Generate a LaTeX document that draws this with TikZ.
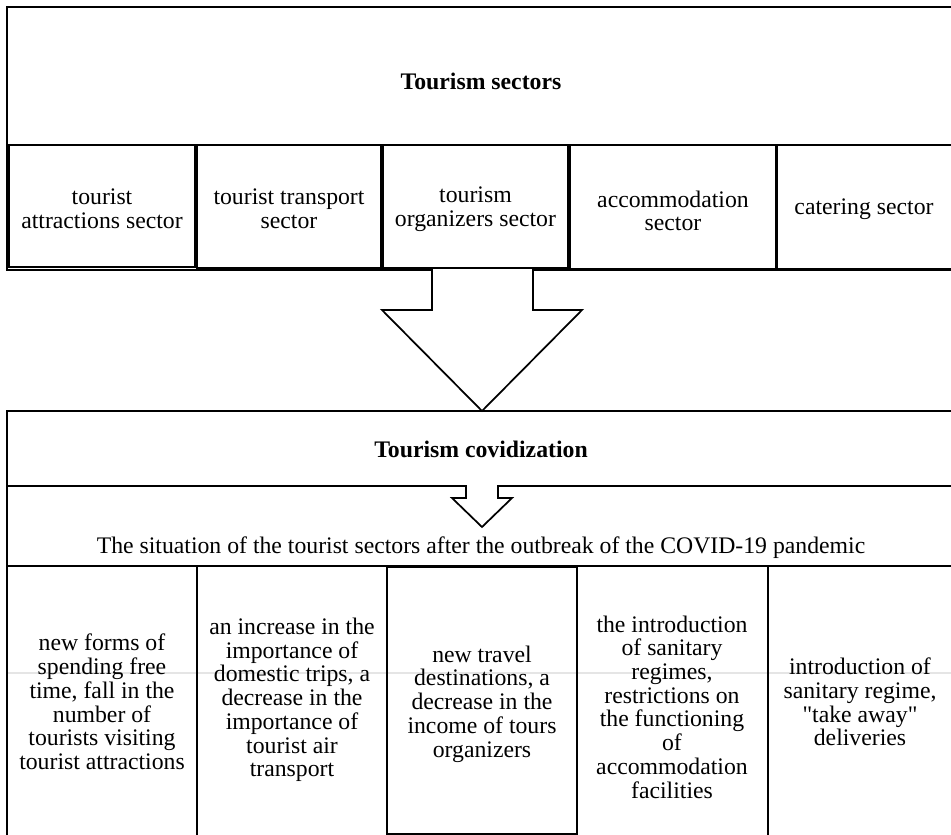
\documentclass[tikz,border=0pt]{standalone}
\usepackage{fontspec}
\setmainfont{Liberation Serif}[Ligatures=TeXOff]
\tikzset{
  frame/.style={line width=1.3pt, line join=miter},
  cell/.style={line width=1.1pt},
  txt/.style={align=center, inner sep=0pt, font=\fontsize{17.8}{17.8}\selectfont},
  headtxt/.style={txt, font=\fontsize{17.8}{17.8}\selectfont\bfseries},
}
\begin{document}
\begin{tikzpicture}[x=0.75pt,y=-0.75pt]
  \useasboundingbox (0,0) rectangle (951,835);
  \clip (0,0) rectangle (951,835);
  \fill[white] (0,0) rectangle (951,835);
  \draw[black!10, line width=0.8pt] (7,673) -- (951,673);
  \draw[frame] (958,7) -- (7,7) -- (7,270) -- (432,270) -- (432,310) -- (382,310)
    -- (482,411) -- (582,310) -- (533,310) -- (533,270) -- (958,270);
  \node[headtxt] (sectors) at (481,81) {Tourism sectors};
  \draw[cell] (9,145) rectangle (195,267);
  \draw[cell] (197,145) rectangle (381,268);
  \draw[cell] (383,145) rectangle (568,268);
  \draw[cell] (570,145) rectangle (776,268.5);
  \draw[cell] (777,145) rectangle (960,268.5);
  \node[txt] (sec1) at (102,209) {tourist\\attractions sector};
  \node[txt] (sec2) at (289,209) {tourist transport\\sector};
  \node[txt] (sec3) at (475.5,209) {tourism\\organizers sector};
  \node[txt] (sec4) at (673,211) {accommodation\\sector};
  \node[txt] (sec5) at (864,209) {catering sector};
  \draw[frame] (958,411) -- (7,411) -- (7,840);
  \node[headtxt] (covid) at (481,449) {Tourism covidization};
  \draw[frame] (7,486) -- (466,486) -- (466,498) -- (452,498) -- (482,527)
    -- (512,498) -- (498,498) -- (498,486) -- (958,486);
  \node[txt] (situation) at (481,548) {The situation of the tourist sectors after the outbreak of the COVID-19 pandemic};
  \draw[cell] (7,566) -- (958,566);
  \draw[cell] (197,566) -- (197,840);
  \draw[cell] (387,567) rectangle (577,834);
  \draw[cell] (768,566) -- (768,840);
  \node[txt] (eff1) at (102,702) {new forms of\\spending free\\time, fall in the\\number of\\tourists visiting\\tourist attractions};
  \node[txt] (eff2) at (292,700) {an increase in the\\importance of\\domestic trips, a\\decrease in the\\importance of\\tourist air\\transport};
  \node[txt] (eff3) at (482,704) {new travel\\destinations, a\\decrease in the\\income of tours\\organizers};
  \node[txt] (eff4) at (672,707) {the introduction\\of sanitary\\regimes,\\restrictions on\\the functioning\\of\\accommodation\\facilities};
  \node[txt] (eff5) at (860,702) {introduction of\\sanitary regime,\\"take away"\\deliveries};
\end{tikzpicture}
\end{document}
